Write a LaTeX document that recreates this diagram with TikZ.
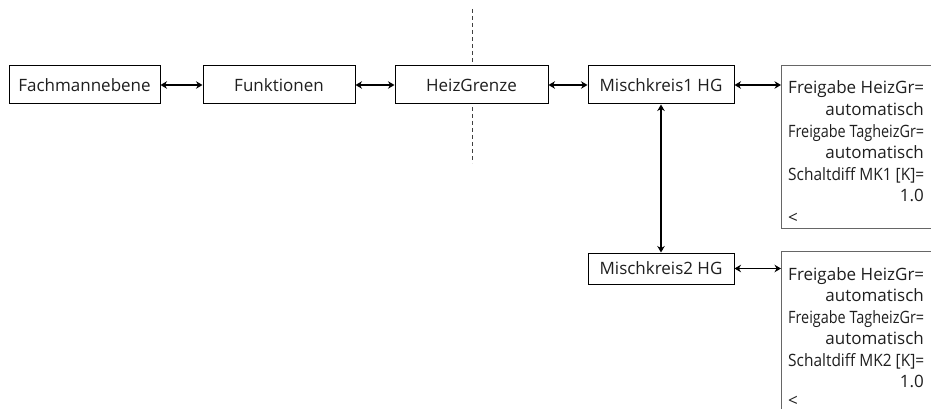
\documentclass[tikz,border=0pt]{standalone}
\usepackage{fontspec}
\usepackage{graphicx}
\setmainfont{Open Sans}
\usetikzlibrary{arrows.meta}
% stretch/squeeze a label line to the width of the info panel
\newcommand\fitline[1]{\resizebox{136pt}{\height}{#1}}
\begin{document}
\begin{tikzpicture}[x=1pt,y=-1pt,
  txt/.style={font=\fontsize{17}{20}\selectfont,text=black!88},
  box/.style={txt,draw=black,line width=1pt,fill=white,minimum height=38pt,inner sep=0pt},
  link/.style={line width=1.1pt,{Stealth[length=6.5pt,width=7.5pt]}-{Stealth[length=6.5pt,width=7.5pt]}},
  panel/.style={draw=black!60,line width=1.3pt,fill=white,inner sep=0pt,anchor=north west},
  lft/.style={txt,anchor=base west,inner sep=0pt},
  rgt/.style={txt,anchor=base east,inner sep=0pt},
  boundary/.style={draw=black!75,line width=0.8pt,dash pattern=on 4pt off 3pt}]

\useasboundingbox (0,0) rectangle (931,409);
\clip (0,0) rectangle (931,409);

% dashed boundary behind the HeizGrenze box
\coordinate (btop) at (472,9);
\coordinate (bbot) at (472,163);
\draw[boundary] (btop) -- (bbot);

% menu boxes
\node[box,minimum width=151pt] (fach)   at (84.5,85)  {Fachmannebene};
\node[box,minimum width=152pt] (funk)   at (279,85)   {Funktionen};
\node[box,minimum width=153pt] (heiz)   at (471.5,85) {HeizGrenze};
\node[box,minimum width=146pt] (misch1) at (661,85)   {Mischkreis1 HG};
\node[box,minimum width=146pt,minimum height=31pt] (misch2) at (661,268.5) {Mischkreis2 HG};

% info panels (running off the right edge)
\node[panel,minimum width=200pt,minimum height=163pt] (panelA) at (781,65) {};
\node[panel,minimum width=200pt,minimum height=200pt] (panelB) at (781,251) {};

% panel for Mischkreis1
\node[lft] (a1) at (788,94)    {\fitline{Freigabe HeizGr=}};
\node[rgt] (a2) at (924,115.5) {automatisch};
\node[lft] (a3) at (788,137)   {\fitline{Freigabe TagheizGr=}};
\node[rgt] (a4) at (924,158.5) {automatisch};
\node[lft] (a5) at (788,180)   {\fitline{Schaltdiff MK1 [K]=}};
\node[rgt] (a6) at (924,201.5) {1.0};
\node[lft] (a7) at (788,223)   {<};

% panel for Mischkreis2
\node[lft] (b1) at (788,280)   {\fitline{Freigabe HeizGr=}};
\node[rgt] (b2) at (924,301.5) {automatisch};
\node[lft] (b3) at (788,323)   {\fitline{Freigabe TagheizGr=}};
\node[rgt] (b4) at (924,344.5) {automatisch};
\node[lft] (b5) at (788,366)   {\fitline{Schaltdiff MK2 [K]=}};
\node[rgt] (b6) at (924,387.5) {1.0};
\node[lft] (b7) at (788,406.5) {<};

% connectors
\draw[link] (fach) -- (funk);
\draw[link] (funk) -- (heiz);
\draw[link] (heiz) -- (misch1);
\draw[link] (misch1) -- (misch1 -| panelA.west);
\draw[link] (misch1) -- (misch2);
\draw[link] (misch2) -- (misch2 -| panelB.west);
\end{tikzpicture}
\end{document}
